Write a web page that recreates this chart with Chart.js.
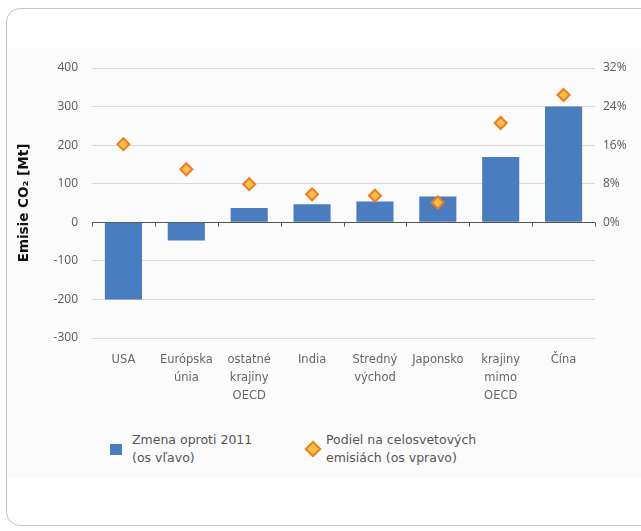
<!DOCTYPE html>
<html>
<head>
<meta charset="utf-8">
<script src="https://cdn.jsdelivr.net/npm/chart.js@4"></script>
<style>
  body { margin: 0; background: #fff; width: 641px; height: 531px; overflow: hidden; position: relative; font-family: "DejaVu Sans", sans-serif; }
  .frame { position: absolute; left: 6px; top: 8px; width: 660px; height: 516px; border: 1px solid #c4c4c4; border-radius: 14px; }
  .panel { position: absolute; left: 7px; top: 48px; width: 634px; height: 430px; background: #fbfbfb; }
  .chart-box { position: absolute; left: 0; top: 0; width: 641px; height: 415px; }
  .legend { position: absolute; top: 431px; left: 0; width: 641px; }
  .legend-item { position: absolute; display: flex; align-items: center; color: #555; font-size: 12.5px; line-height: 18px; }
  .swatch { width: 12px; height: 11px; background: #4a7dc0; margin-right: 10px; }
  .diamond { width: 8px; height: 8px; background: #f8c04a; border: 2px solid #ee7d1e; transform: rotate(45deg); margin: 0 7px 0 2px; }
</style>
</head>
<body>
<div class="panel"></div>
<div class="frame"></div>
<div class="chart-box"><canvas id="co2Chart" width="641" height="415"></canvas></div>
<div class="legend" id="legend"></div>
<script>
// Data
const categories = [
  'USA', ['Európska', 'únia'], ['ostatné', 'krajiny', 'OECD'], 'India',
  ['Stredný', 'východ'], 'Japonsko', ['krajiny', 'mimo', 'OECD'], 'Čína'
];
const changeSince2011 = [-200, -47, 37, 47, 54, 67, 169, 300];   // Mt, left axis
const worldShare = [16.2, 11.0, 7.9, 5.8, 5.5, 4.1, 20.6, 26.4]; // %, right axis
const leftTicks = { min: -300, max: 400, step: 100 };
const rightTicks = { min: -24, max: 32, step: 8 };
const legendLabels = [['Zmena oproti 2011', '(os vľavo)'], ['Podiel na celosvetových', 'emisiách (os vpravo)']];

// Zero axis line with category tick marks
const zeroAxis = {
  id: 'zeroAxis',
  beforeDatasetsDraw(chart) {
    const { ctx, chartArea, scales } = chart;
    const y0 = Math.round(scales.y.getPixelForValue(0)) + 0.5;
    ctx.save();
    ctx.strokeStyle = '#555';
    ctx.lineWidth = 1;
    ctx.beginPath();
    ctx.moveTo(chartArea.left, y0);
    ctx.lineTo(chartArea.right, y0);
    const n = categories.length;
    for (let i = 0; i <= n; i++) {
      let x;
      if (i === 0) x = chartArea.left;
      else if (i === n) x = chartArea.right;
      else x = (scales.x.getPixelForValue(i - 1) + scales.x.getPixelForValue(i)) / 2;
      x = Math.round(x) + 0.5;
      ctx.moveTo(x, y0);
      ctx.lineTo(x, y0 + 4);
    }
    ctx.stroke();
    ctx.restore();
  }
};

new Chart(document.getElementById('co2Chart'), {
  data: {
    labels: categories,
    datasets: [
      {
        type: 'line',
        label: legendLabels[1].join(' '),
        data: worldShare,
        yAxisID: 'y2',
        showLine: false,
        pointStyle: 'rectRot',
        pointRadius: 6,
        pointBorderWidth: 2,
        pointBackgroundColor: '#f8c04a',
        pointBorderColor: '#ee7d1e'
      },
      {
        type: 'bar',
        label: legendLabels[0].join(' '),
        data: changeSince2011,
        yAxisID: 'y',
        backgroundColor: '#4a7dc0',
        categoryPercentage: 1,
        barPercentage: 0.59
      }
    ]
  },
  options: {
    responsive: false,
    animation: false,
    layout: { padding: { left: 16, right: 10, top: 68, bottom: 0 } },
    plugins: { legend: { display: false }, tooltip: { enabled: false } },
    scales: {
      x: {
        grid: { display: false },
        border: { display: false },
        ticks: {
          color: '#666',
          padding: 5,
          maxRotation: 0,
          autoSkip: false,
          font: { family: 'DejaVu Sans', size: 11.5, lineHeight: 1.55 }
        },
        afterFit(scale) { scale.height = 415 - 338; }
      },
      y: {
        position: 'left',
        min: leftTicks.min,
        max: leftTicks.max,
        border: { display: false },
        grid: {
          drawTicks: false,
          color: ctx => ctx.tick.value === 0 ? 'rgba(0,0,0,0)' : '#dadada'
        },
        ticks: {
          stepSize: leftTicks.step,
          color: '#595959',
          padding: 14,
          font: { family: 'Open Sans', size: 12 }
        },
        title: {
          display: true,
          text: 'Emisie CO₂ [Mt]',
          color: '#111',
          padding: { top: 0, bottom: 8 },
          font: { family: 'DejaVu Sans', size: 13.5, weight: 'bold' }
        },
        afterFit(scale) { scale.width = 92 - 16; }
      },
      y2: {
        position: 'right',
        min: rightTicks.min,
        max: rightTicks.max,
        border: { display: false },
        grid: { display: false, drawTicks: false },
        ticks: {
          stepSize: rightTicks.step,
          color: '#595959',
          padding: 8,
          font: { family: 'Open Sans', size: 12 },
          callback: v => v >= 0 ? v + '%' : ''
        },
        afterFit(scale) { scale.width = 641 - 595 - 10; }
      }
    }
  },
  plugins: [zeroAxis]
});

// HTML legend with two-line labels
const legend = document.getElementById('legend');
[{ left: 110, marker: 'swatch' }, { left: 305, marker: 'diamond' }].forEach((item, i) => {
  const el = document.createElement('div');
  el.className = 'legend-item';
  el.style.left = item.left + 'px';
  el.innerHTML = '<div class="' + item.marker + '"></div><div>' + legendLabels[i].join('<br>') + '</div>';
  legend.appendChild(el);
});
</script>
</body>
</html>
